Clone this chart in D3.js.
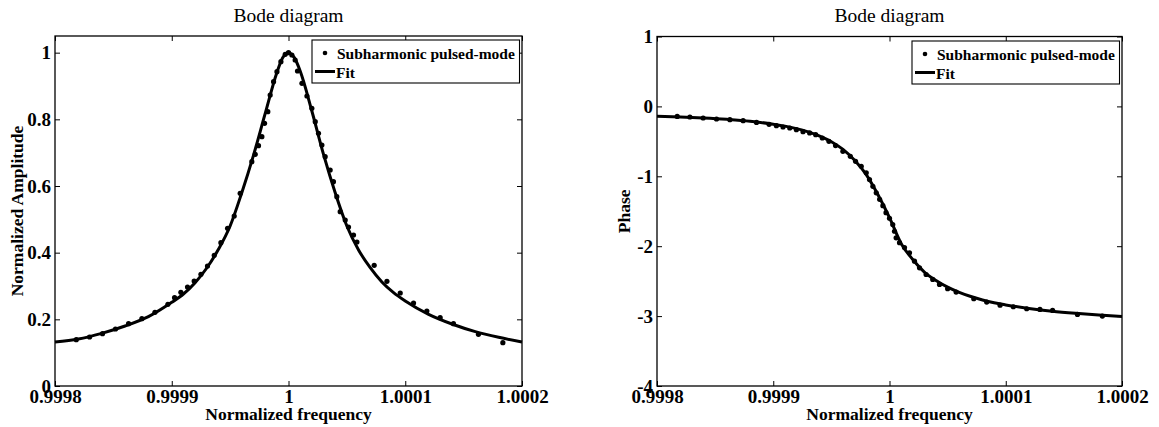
<!DOCTYPE html>
<html>
<head>
<meta charset="utf-8">
<script src="https://cdn.jsdelivr.net/npm/d3@7"></script>
<style>
  html, body { margin: 0; padding: 0; background: #fff; }
  svg { display: block; }
  text { font-family: "Liberation Serif", "Times New Roman", serif; fill: #000; }
</style>
</head>
<body>
<svg id="chart" width="1159" height="427"></svg>
<script>
// ---- Data -------------------------------------------------------------
// Tick values and labels
const xTicks = [0.9998, 0.9999, 1, 1.0001, 1.0002];
const xTickLabels = ["0.9998", "0.9999", "1", "1.0001", "1.0002"];
const ampTicks = [0, 0.2, 0.4, 0.6, 0.8, 1];
const ampTickLabels = ["0", "0.2", "0.4", "0.6", "0.8", "1"];
const phaseTicks = [-4, -3, -2, -1, 0, 1];
const phaseTickLabels = ["-4", "-3", "-2", "-1", "0", "1"];

// Measured amplitude (subharmonic pulsed-mode)
const ampFreq = [0.9998182, 0.9998296, 0.9998407, 0.9998518, 0.9998630, 0.9998744, 0.9998856,
  0.9998967, 0.9999024, 0.9999078, 0.9999135, 0.9999192, 0.9999250, 0.9999306, 0.9999364,
  0.9999421, 0.9999478, 0.9999535, 0.9999586, 0.9999686, 0.9999715, 0.9999743, 0.9999772,
  0.9999795, 0.9999823, 0.9999843, 0.9999872, 0.9999901, 0.9999935, 0.9999972, 1.0000000,
  1.0000029, 1.0000057, 1.0000077, 1.0000115, 1.0000158, 1.0000200, 1.0000229, 1.0000257,
  1.0000286, 1.0000314, 1.0000357, 1.0000385, 1.0000414, 1.0000443, 1.0000486, 1.0000514,
  1.0000557, 1.0000586, 1.0000734, 1.0000843, 1.0000957, 1.0001071, 1.0001185, 1.0001299,
  1.0001413, 1.0001627, 1.0001836];
const ampMeas = [0.139, 0.147, 0.157, 0.171, 0.187, 0.202, 0.221,
  0.245, 0.265, 0.281, 0.297, 0.315, 0.335, 0.360, 0.392,
  0.430, 0.473, 0.510, 0.578, 0.673, 0.695, 0.721, 0.748,
  0.788, 0.823, 0.873, 0.913, 0.943, 0.973, 0.995, 1.000,
  0.993, 0.978, 0.945, 0.908, 0.870, 0.833, 0.793, 0.758,
  0.723, 0.688, 0.648, 0.613, 0.568, 0.523, 0.498, 0.477,
  0.453, 0.432, 0.362, 0.314, 0.279, 0.249, 0.225, 0.205,
  0.187, 0.155, 0.130];

// Fitted amplitude curve
const ampFitFreq = [0.9998, 0.99982, 0.99984, 0.99986, 0.99988, 0.9999, 0.99991, 0.99992,
  0.99993, 0.99994, 0.99995, 0.99996, 0.99997, 0.99998, 0.99999, 0.999995, 1,
  1.000005, 1.00001, 1.00002, 1.00003, 1.00004, 1.00005, 1.00006, 1.00007,
  1.00008, 1.00009, 1.0001, 1.00012, 1.00014, 1.00016, 1.00018, 1.0002];
const ampFit = [0.132, 0.141, 0.158, 0.180, 0.208, 0.251, 0.276, 0.310,
  0.354, 0.410, 0.480, 0.580, 0.692, 0.817, 0.940, 0.985, 1.000,
  0.985, 0.945, 0.825, 0.695, 0.580, 0.480, 0.408, 0.355,
  0.312, 0.280, 0.255, 0.215, 0.186, 0.163, 0.146, 0.132];

// Measured phase (subharmonic pulsed-mode)
const phaseFreq = [0.9998174, 0.9998283, 0.9998397, 0.9998512, 0.9998627, 0.9998741, 0.9998856,
  0.9998964, 0.9999027, 0.9999084, 0.9999142, 0.9999199, 0.9999256, 0.9999313, 0.9999365,
  0.9999422, 0.9999479, 0.9999536, 0.9999599, 0.9999663, 0.9999708, 0.9999757, 0.9999800,
  0.9999828, 0.9999857, 0.9999886, 0.9999915, 0.9999943, 0.9999970, 1.0000000, 1.0000028,
  1.0000043, 1.0000057, 1.0000086, 1.0000129, 1.0000172, 1.0000215, 1.0000258, 1.0000315,
  1.0000372, 1.0000430, 1.0000500, 1.0000573, 1.0000725, 1.0000836, 1.0000951, 1.0001065,
  1.0001180, 1.0001294, 1.0001403, 1.0001617, 1.0001831];
const phaseMeas = [-0.143, -0.152, -0.166, -0.180, -0.190, -0.204, -0.229,
  -0.257, -0.276, -0.295, -0.309, -0.333, -0.361, -0.380, -0.404,
  -0.452, -0.500, -0.561, -0.643, -0.714, -0.786, -0.857, -0.951,
  -1.047, -1.143, -1.237, -1.330, -1.420, -1.520, -1.600, -1.690,
  -1.786, -1.880, -1.950, -2.020, -2.095, -2.214, -2.310, -2.405,
  -2.476, -2.547, -2.609, -2.657, -2.752, -2.800, -2.843, -2.866,
  -2.895, -2.905, -2.919, -2.976, -3.000];

// Fitted phase curve
const phaseFitFreq = [0.9998, 0.99982, 0.99984, 0.99986, 0.99988, 0.9999, 0.99991, 0.99992,
  0.99993, 0.99994, 0.99995, 0.99996, 0.99997, 0.99998, 0.99999, 1,
  1.00001, 1.00002, 1.00003, 1.00004, 1.00005, 1.00006, 1.00007, 1.00008,
  1.00009, 1.0001, 1.00012, 1.00014, 1.00016, 1.00018, 1.0002];
const phaseFit = [-0.140, -0.150, -0.165, -0.185, -0.212, -0.255, -0.282, -0.318,
  -0.365, -0.425, -0.505, -0.615, -0.770, -0.975, -1.260, -1.590,
  -1.960, -2.190, -2.370, -2.490, -2.585, -2.660, -2.720, -2.770,
  -2.810, -2.840, -2.890, -2.930, -2.960, -2.985, -3.005];

// ---- Drawing ----------------------------------------------------------
const svg = d3.select("#chart");

function drawPanel(opts) {
  const { left, right, top, bottom, yDomain, yTicks, yLabels, yTitle, yTitleX,
          measX, measY, fitX, fitY, legend } = opts;

  const x = d3.scaleLinear().domain([0.9998, 1.0002]).range([left, right]);
  const y = d3.scaleLinear().domain(yDomain).range([bottom, top]);
  const g = svg.append("g");

  // box
  g.append("rect")
    .attr("x", left).attr("y", top)
    .attr("width", right - left).attr("height", bottom - top)
    .attr("fill", "none").attr("stroke", "#000").attr("stroke-width", 1.3);

  const tickLen = 5;
  const xFmt = (d, i) => xTickLabels[i];
  const yFmt = (d, i) => yLabels[i];

  // bottom axis with labels
  const gx = g.append("g").attr("transform", `translate(0,${bottom})`)
    .call(d3.axisBottom(x).tickValues(xTicks).tickFormat(xFmt)
      .tickSizeInner(-tickLen).tickSizeOuter(0).tickPadding(4));
  // top axis (ticks only)
  const gxt = g.append("g").attr("transform", `translate(0,${top})`)
    .call(d3.axisTop(x).tickValues(xTicks).tickFormat(() => "")
      .tickSizeInner(-tickLen).tickSizeOuter(0));
  // left axis with labels
  const gy = g.append("g").attr("transform", `translate(${left},0)`)
    .call(d3.axisLeft(y).tickValues(yTicks).tickFormat(yFmt)
      .tickSizeInner(-tickLen).tickSizeOuter(0).tickPadding(4));
  // right axis (ticks only)
  const gyr = g.append("g").attr("transform", `translate(${right},0)`)
    .call(d3.axisRight(y).tickValues(yTicks).tickFormat(() => "")
      .tickSizeInner(-tickLen).tickSizeOuter(0));

  [gx, gxt, gy, gyr].forEach(a => {
    a.select(".domain").remove();
    a.selectAll(".tick line").attr("stroke", "#000").attr("stroke-width", 1);
    a.selectAll(".tick text")
      .style("font-family", "'Liberation Serif', 'Times New Roman', serif")
      .style("font-size", "19px").style("font-weight", "bold").attr("fill", "#000");
  });

  // title
  g.append("text")
    .attr("x", (left + right) / 2).attr("y", 22)
    .attr("text-anchor", "middle")
    .style("font-size", "19.5px")
    .text("Bode diagram");

  // x label
  g.append("text")
    .attr("x", (left + right) / 2).attr("y", 419.5)
    .attr("text-anchor", "middle")
    .style("font-size", "17.5px").style("font-weight", "bold")
    .text("Normalized frequency");

  // y label
  g.append("text")
    .attr("transform", `translate(${yTitleX},${(top + bottom) / 2}) rotate(-90)`)
    .attr("text-anchor", "middle")
    .style("font-size", "17.5px").style("font-weight", "bold")
    .text(yTitle);

  // fit curve
  const line = d3.line()
    .x((d, i) => x(fitX[i]))
    .y((d, i) => y(fitY[i]))
    .curve(d3.curveMonotoneX);
  g.append("path")
    .datum(fitY)
    .attr("d", line)
    .attr("fill", "none").attr("stroke", "#000")
    .attr("stroke-width", 3).attr("stroke-linejoin", "round");

  // measured points
  g.append("g").selectAll("circle")
    .data(measY)
    .join("circle")
    .attr("cx", (d, i) => x(measX[i]))
    .attr("cy", d => y(d))
    .attr("r", 2.6)
    .attr("fill", "#000");

  // legend
  const lg = g.append("g").attr("transform", `translate(${legend.x},${legend.y})`);
  lg.append("rect")
    .attr("width", legend.w).attr("height", legend.h)
    .attr("fill", "#fff").attr("stroke", "#000").attr("stroke-width", 1.1);
  lg.append("circle").attr("cx", 13).attr("cy", 13).attr("r", 2.3).attr("fill", "#000");
  lg.append("text").attr("x", 25).attr("y", 19)
    .style("font-size", "15.5px").style("font-weight", "bold")
    .text("Subharmonic pulsed-mode");
  lg.append("line").attr("x1", 3).attr("x2", 23).attr("y1", 31.5).attr("y2", 31.5)
    .attr("stroke", "#000").attr("stroke-width", 3);
  lg.append("text").attr("x", 24).attr("y", 37.5)
    .style("font-size", "15.5px").style("font-weight", "bold")
    .text("Fit");
}

drawPanel({
  left: 55, right: 522, top: 36, bottom: 386,
  yDomain: [0, 1.05], yTicks: ampTicks, yLabels: ampTickLabels,
  yTitle: "Normalized Amplitude", yTitleX: 22.5,
  measX: ampFreq, measY: ampMeas, fitX: ampFitFreq, fitY: ampFit,
  legend: { x: 312, y: 40, w: 207.5, h: 43 }
});

drawPanel({
  left: 657, right: 1122, top: 36.5, bottom: 386,
  yDomain: [-4, 1], yTicks: phaseTicks, yLabels: phaseTickLabels,
  yTitle: "Phase", yTitleX: 630,
  measX: phaseFreq, measY: phaseMeas, fitX: phaseFitFreq, fitY: phaseFit,
  legend: { x: 912, y: 41, w: 207.5, h: 43 }
});
</script>
</body>
</html>
